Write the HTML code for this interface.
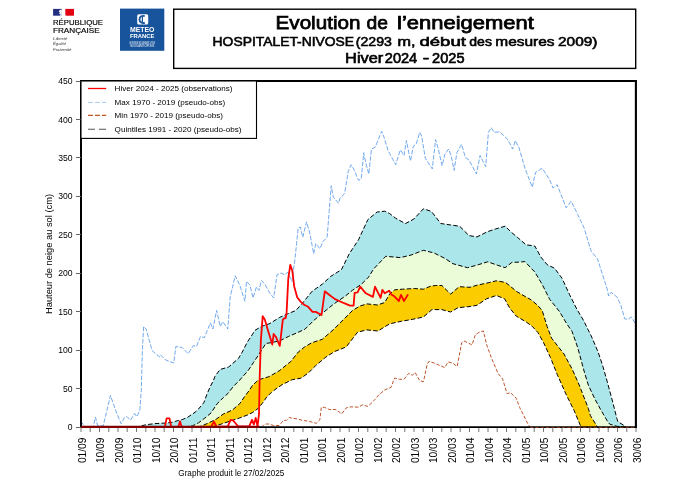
<!DOCTYPE html>
<html><head><meta charset="utf-8"><style>
html,body{margin:0;padding:0;background:#fff;width:687px;height:485px;overflow:hidden}
svg{display:block;will-change:transform}
</style></head><body>
<svg width="687" height="485" viewBox="0 0 687 485">
<rect x="53.1" y="8.9" width="8.7" height="6.8" fill="#232f80"/>
<rect x="65.3" y="8.9" width="8.7" height="6.8" fill="#e1000f"/>
<path d="M59.5 10.2 l1.6 -0.6 l0.7 0.4 l0 5.7 l-2.2 0 l1 -1.3 l-1.6 -0.8 l1.3 -0.9 l-1.5 -0.6 z" fill="#ffffff"/>
<path d="M65.3 13.6 l-0.6 2.1 l0.6 0 z" fill="#ffffff"/>
<text x="53" y="25.2" font-family="Liberation Sans, sans-serif" font-size="6.8" stroke="#000" stroke-width="0.15" textLength="50" lengthAdjust="spacingAndGlyphs" fill="#000">RÉPUBLIQUE</text>
<text x="53" y="33.4" font-family="Liberation Sans, sans-serif" font-size="6.8" stroke="#000" stroke-width="0.15" textLength="46.6" lengthAdjust="spacingAndGlyphs" fill="#000">FRANÇAISE</text>
<text x="53" y="39.800000000000004" font-family="Liberation Sans, sans-serif" font-style="italic" font-size="3.4" textLength="14.5" lengthAdjust="spacingAndGlyphs" fill="#333">Liberté</text>
<text x="53" y="45.2" font-family="Liberation Sans, sans-serif" font-style="italic" font-size="3.4" textLength="13" lengthAdjust="spacingAndGlyphs" fill="#333">Égalité</text>
<text x="53" y="50.6" font-family="Liberation Sans, sans-serif" font-style="italic" font-size="3.4" textLength="18.5" lengthAdjust="spacingAndGlyphs" fill="#333">Fraternité</text>
<rect x="120" y="8.6" width="44.3" height="42.2" fill="#18549c"/>
<rect x="137.2" y="14.3" width="11" height="10.3" rx="1.5" fill="#ffffff"/>
<path d="M144.8 16.3 a3.6 3.6 0 1 0 0 6.3" stroke="#18549c" stroke-width="1.8" fill="none"/>
<rect x="141.8" y="16.8" width="1.2" height="5.5" fill="#18549c"/>
<text x="142.2" y="32.3" font-family="Liberation Sans, sans-serif" font-weight="bold" font-size="7" text-anchor="middle" textLength="24.5" lengthAdjust="spacingAndGlyphs" fill="#fff">METEO</text>
<text x="142.2" y="38.2" font-family="Liberation Sans, sans-serif" font-weight="bold" font-size="5" text-anchor="middle" textLength="24.5" lengthAdjust="spacingAndGlyphs" fill="#fff">FRANCE</text>
<text x="142.2" y="43.6" font-family="Liberation Sans, sans-serif" font-size="2.6" text-anchor="middle" textLength="26" lengthAdjust="spacingAndGlyphs" fill="#fff">LE MONDE BOUGE AVEC VOUS</text>
<text x="142.2" y="47" font-family="Liberation Sans, sans-serif" font-size="2.6" text-anchor="middle" textLength="24" lengthAdjust="spacingAndGlyphs" fill="#fff">NOUS ANTICIPONS</text>
<rect x="173.7" y="9.2" width="462" height="59.2" fill="none" stroke="#000" stroke-width="1.4"/>
<text x="275.6" y="28.9" font-family="Liberation Sans, sans-serif" font-size="18.4" stroke="#000" stroke-width="0.75" textLength="84.8" lengthAdjust="spacingAndGlyphs">Evolution</text>
<text x="366.6" y="28.9" font-family="Liberation Sans, sans-serif" font-size="18.4" stroke="#000" stroke-width="0.75" textLength="21.4" lengthAdjust="spacingAndGlyphs">de</text>
<text x="397.1" y="28.9" font-family="Liberation Sans, sans-serif" font-size="18.4" stroke="#000" stroke-width="0.75" textLength="136.8" lengthAdjust="spacingAndGlyphs">l’enneigement</text>
<text x="212.6" y="45.7" font-family="Liberation Sans, sans-serif" font-size="13.6" stroke="#000" stroke-width="0.6" textLength="141.5" lengthAdjust="spacingAndGlyphs">HOSPITALET-NIVOSE</text>
<text x="355.8" y="45.7" font-family="Liberation Sans, sans-serif" font-size="13.6" stroke="#000" stroke-width="0.6" textLength="36.1" lengthAdjust="spacingAndGlyphs">(2293</text>
<text x="397.5" y="45.7" font-family="Liberation Sans, sans-serif" font-size="13.6" stroke="#000" stroke-width="0.6" textLength="18.0" lengthAdjust="spacingAndGlyphs">m,</text>
<text x="419.5" y="45.7" font-family="Liberation Sans, sans-serif" font-size="13.6" stroke="#000" stroke-width="0.6" textLength="46.4" lengthAdjust="spacingAndGlyphs">début</text>
<text x="469.3" y="45.7" font-family="Liberation Sans, sans-serif" font-size="13.6" stroke="#000" stroke-width="0.6" textLength="22.6" lengthAdjust="spacingAndGlyphs">des</text>
<text x="495.3" y="45.7" font-family="Liberation Sans, sans-serif" font-size="13.6" stroke="#000" stroke-width="0.6" textLength="59.3" lengthAdjust="spacingAndGlyphs">mesures</text>
<text x="558.0" y="45.7" font-family="Liberation Sans, sans-serif" font-size="13.6" stroke="#000" stroke-width="0.6" textLength="39.4" lengthAdjust="spacingAndGlyphs">2009)</text>
<text x="345.1" y="63.0" font-family="Liberation Sans, sans-serif" font-size="13.8" stroke="#000" stroke-width="0.6" textLength="38.1" lengthAdjust="spacingAndGlyphs">Hiver</text>
<text x="384.8" y="63.0" font-family="Liberation Sans, sans-serif" font-size="13.8" stroke="#000" stroke-width="0.6" textLength="32.4" lengthAdjust="spacingAndGlyphs">2024</text>
<text x="422.7" y="63.0" font-family="Liberation Sans, sans-serif" font-size="13.8" stroke="#000" stroke-width="0.6" textLength="6.5" lengthAdjust="spacingAndGlyphs">-</text>
<text x="432.1" y="63.0" font-family="Liberation Sans, sans-serif" font-size="13.8" stroke="#000" stroke-width="0.6" textLength="32.4" lengthAdjust="spacingAndGlyphs">2025</text>
<polygon points="81.0,427.0 135.0,427.0 139.8,426.3 145.6,424.8 154.9,423.6 166.6,423.0 172.5,422.2 178.3,420.5 180.0,420.4 182.9,419.3 187.6,417.3 195.0,412.3 198.6,408.9 203.8,402.7 206.9,394.4 210.0,387.2 213.6,380.0 215.0,376.3 220.0,369.5 228.6,367.0 238.5,358.4 242.2,352.2 247.2,342.3 252.1,334.9 255.0,330.3 261.2,326.6 269.9,323.5 279.8,317.3 289.7,313.0 295.8,310.5 302.0,303.7 312.2,291.2 322.5,284.0 330.7,276.4 341.4,269.7 349.3,253.7 358.5,239.8 367.8,219.7 377.1,212.0 384.8,211.2 389.5,213.5 395.6,218.2 405.4,223.6 413.9,219.0 423.4,208.8 431.4,211.4 440.8,223.5 450.2,224.9 459.6,226.2 469.0,235.6 477.0,236.9 487.7,231.6 495.8,228.9 505.2,226.2 511.0,232.0 517.4,237.3 526.1,244.8 534.8,246.0 540.9,257.1 547.1,264.6 554.6,268.3 562.0,278.2 569.4,294.3 576.8,309.1 583.3,320.0 591.2,335.9 598.0,351.7 602.6,365.4 607.1,381.2 612.8,402.3 616.9,418.6 617.9,421.7 623.0,424.8 626.0,427.0 636.0,427.0" fill="#aae6ea"/>
<polygon points="81.0,427.0 184.4,426.8 192.4,425.9 198.6,422.8 204.8,418.1 211.0,413.0 217.2,403.7 223.4,397.5 228.0,393.4 233.4,386.4 239.8,380.0 248.4,370.2 253.5,362.5 258.7,354.7 265.9,343.4 271.1,342.7 279.8,340.8 288.4,336.5 297.1,332.8 305.0,329.2 313.7,320.5 322.3,313.3 333.9,303.9 345.4,296.0 352.6,290.2 361.3,284.4 368.5,277.2 373.6,269.0 385.7,256.3 400.4,257.6 411.2,255.0 423.4,250.3 434.1,253.0 444.9,258.4 452.9,263.7 467.6,267.7 477.0,265.1 487.7,261.8 497.1,265.1 505.2,267.7 511.9,262.4 519.9,262.1 524.9,261.6 534.8,272.0 542.2,284.4 549.6,299.2 559.5,311.6 566.9,324.0 572.0,331.3 577.6,347.2 584.4,372.2 588.3,385.0 594.5,398.3 600.6,409.5 607.7,421.7 609.8,424.2 616.9,426.3 625.0,427.0 636.0,427.0" fill="#ebfcd9"/>
<polygon points="81.0,427.0 197.0,427.0 201.7,425.9 208.9,422.8 216.1,419.2 223.4,414.0 228.0,412.0 232.4,410.0 239.8,403.6 243.6,398.0 249.1,390.6 252.8,385.0 258.7,379.7 268.9,376.7 279.1,370.9 290.8,361.5 298.3,352.0 304.5,347.0 311.9,342.7 322.3,339.3 333.9,329.2 344.0,319.1 352.6,310.4 359.8,306.1 367.0,303.9 377.5,305.0 384.7,302.5 390.0,293.5 394.9,289.8 402.4,289.2 414.7,288.5 423.4,289.2 430.8,286.1 435.7,285.5 441.9,285.5 450.6,294.1 459.2,286.7 470.0,287.3 477.0,285.2 490.0,282.4 496.2,280.8 505.5,282.4 510.6,286.5 516.8,291.6 524.0,295.8 531.2,299.9 537.4,305.1 542.2,310.5 547.1,326.4 551.5,338.1 564.0,354.0 572.0,368.8 579.2,385.0 588.3,408.4 590.4,415.6 597.5,427.0 636.0,427.0" fill="#fbcd00"/>
<polygon points="81.0,427.0 212.0,427.0 220.0,424.5 228.0,421.8 232.4,420.3 239.8,417.9 247.3,415.1 252.8,412.4 258.4,408.2 262.1,403.6 266.7,397.1 271.4,392.4 275.0,389.6 282.0,384.7 292.2,379.7 300.9,378.2 308.2,373.1 315.5,365.8 325.8,357.1 334.9,351.4 346.2,346.9 357.6,332.2 366.6,329.9 378.0,331.0 387.0,325.4 390.0,323.8 401.1,321.3 412.2,319.4 423.4,317.0 432.0,309.6 441.9,309.6 450.6,312.0 458.0,307.7 470.0,306.5 477.0,305.3 486.5,298.8 496.4,295.5 504.6,298.8 509.6,307.9 516.2,316.1 526.1,321.9 532.3,326.4 537.9,332.5 543.6,342.7 550.4,357.4 557.2,374.4 566.3,394.8 574.2,410.7 581.0,427.0 636.0,427.0" fill="#ffffff"/>
<polyline points="135.0,427.0 139.8,426.3 145.6,424.8 154.9,423.6 166.6,423.0 172.5,422.2 178.3,420.5 180.0,420.4 182.9,419.3 187.6,417.3 195.0,412.3 198.6,408.9 203.8,402.7 206.9,394.4 210.0,387.2 213.6,380.0 215.0,376.3 220.0,369.5 228.6,367.0 238.5,358.4 242.2,352.2 247.2,342.3 252.1,334.9 255.0,330.3 261.2,326.6 269.9,323.5 279.8,317.3 289.7,313.0 295.8,310.5 302.0,303.7 312.2,291.2 322.5,284.0 330.7,276.4 341.4,269.7 349.3,253.7 358.5,239.8 367.8,219.7 377.1,212.0 384.8,211.2 389.5,213.5 395.6,218.2 405.4,223.6 413.9,219.0 423.4,208.8 431.4,211.4 440.8,223.5 450.2,224.9 459.6,226.2 469.0,235.6 477.0,236.9 487.7,231.6 495.8,228.9 505.2,226.2 511.0,232.0 517.4,237.3 526.1,244.8 534.8,246.0 540.9,257.1 547.1,264.6 554.6,268.3 562.0,278.2 569.4,294.3 576.8,309.1 583.3,320.0 591.2,335.9 598.0,351.7 602.6,365.4 607.1,381.2 612.8,402.3 616.9,418.6 617.9,421.7 623.0,424.8 626.0,427.0" fill="none" stroke="#000" stroke-width="1.0" stroke-dasharray="4.5 2.2"/>
<polyline points="184.4,426.8 192.4,425.9 198.6,422.8 204.8,418.1 211.0,413.0 217.2,403.7 223.4,397.5 228.0,393.4 233.4,386.4 239.8,380.0 248.4,370.2 253.5,362.5 258.7,354.7 265.9,343.4 271.1,342.7 279.8,340.8 288.4,336.5 297.1,332.8 305.0,329.2 313.7,320.5 322.3,313.3 333.9,303.9 345.4,296.0 352.6,290.2 361.3,284.4 368.5,277.2 373.6,269.0 385.7,256.3 400.4,257.6 411.2,255.0 423.4,250.3 434.1,253.0 444.9,258.4 452.9,263.7 467.6,267.7 477.0,265.1 487.7,261.8 497.1,265.1 505.2,267.7 511.9,262.4 519.9,262.1 524.9,261.6 534.8,272.0 542.2,284.4 549.6,299.2 559.5,311.6 566.9,324.0 572.0,331.3 577.6,347.2 584.4,372.2 588.3,385.0 594.5,398.3 600.6,409.5 607.7,421.7 609.8,424.2 616.9,426.3 625.0,427.0" fill="none" stroke="#000" stroke-width="1.0" stroke-dasharray="4.5 2.2"/>
<polyline points="197.0,427.0 201.7,425.9 208.9,422.8 216.1,419.2 223.4,414.0 228.0,412.0 232.4,410.0 239.8,403.6 243.6,398.0 249.1,390.6 252.8,385.0 258.7,379.7 268.9,376.7 279.1,370.9 290.8,361.5 298.3,352.0 304.5,347.0 311.9,342.7 322.3,339.3 333.9,329.2 344.0,319.1 352.6,310.4 359.8,306.1 367.0,303.9 377.5,305.0 384.7,302.5 390.0,293.5 394.9,289.8 402.4,289.2 414.7,288.5 423.4,289.2 430.8,286.1 435.7,285.5 441.9,285.5 450.6,294.1 459.2,286.7 470.0,287.3 477.0,285.2 490.0,282.4 496.2,280.8 505.5,282.4 510.6,286.5 516.8,291.6 524.0,295.8 531.2,299.9 537.4,305.1 542.2,310.5 547.1,326.4 551.5,338.1 564.0,354.0 572.0,368.8 579.2,385.0 588.3,408.4 590.4,415.6 597.5,427.0" fill="none" stroke="#000" stroke-width="1.0" stroke-dasharray="4.5 2.2"/>
<polyline points="212.0,427.0 220.0,424.5 228.0,421.8 232.4,420.3 239.8,417.9 247.3,415.1 252.8,412.4 258.4,408.2 262.1,403.6 266.7,397.1 271.4,392.4 275.0,389.6 282.0,384.7 292.2,379.7 300.9,378.2 308.2,373.1 315.5,365.8 325.8,357.1 334.9,351.4 346.2,346.9 357.6,332.2 366.6,329.9 378.0,331.0 387.0,325.4 390.0,323.8 401.1,321.3 412.2,319.4 423.4,317.0 432.0,309.6 441.9,309.6 450.6,312.0 458.0,307.7 470.0,306.5 477.0,305.3 486.5,298.8 496.4,295.5 504.6,298.8 509.6,307.9 516.2,316.1 526.1,321.9 532.3,326.4 537.9,332.5 543.6,342.7 550.4,357.4 557.2,374.4 566.3,394.8 574.2,410.7 581.0,427.0" fill="none" stroke="#000" stroke-width="1.0" stroke-dasharray="4.5 2.2"/>
<polyline points="81.5,426.0 82.1,423.3 83.6,424.3 85.0,426.5 93.4,426.4 95.5,417.1 97.5,425.4 103.2,425.9 106.8,410.9 110.4,395.5 113.0,402.7 116.6,413.0 121.2,423.8 124.3,417.6 126.9,416.6 130.5,420.2 134.6,413.5 136.7,416.6 139.8,410.9 141.3,390.3 142.4,350.0 143.6,326.5 146.1,329.0 152.1,350.6 159.4,356.8 160.4,354.7 165.5,359.9 173.8,363.0 175.8,346.5 182.0,347.5 188.2,353.7 193.4,345.5 196.5,346.5 200.5,336.4 204.3,337.7 210.4,322.8 212.9,329.0 216.6,310.4 220.3,326.5 222.8,321.6 227.8,329.0 230.2,296.8 235.2,275.8 239.9,285.5 244.9,301.2 246.5,281.4 249.8,284.7 253.1,297.9 256.4,287.1 258.9,290.4 261.4,280.5 264.7,283.8 269.6,292.9 273.7,297.9 277.0,274.8 281.2,273.1 284.5,274.8 287.8,272.3 291.9,281.4 295.2,256.9 298.2,228.0 300.3,227.0 302.8,237.3 306.5,221.9 309.6,232.2 313.7,253.8 315.8,243.5 319.9,248.7 323.0,241.4 327.1,237.3 329.2,211.5 331.2,185.8 333.3,197.1 338.5,203.3 340.0,198.1 344.6,193.5 348.3,171.2 351.1,164.7 353.9,169.4 358.6,180.5 361.3,178.6 363.7,152.7 366.0,163.8 368.8,174.0 371.5,149.0 375.3,147.1 377.1,142.5 381.7,131.3 383.6,136.0 388.2,150.8 395.7,164.7 400.3,149.9 404.0,155.5 406.4,140.6 410.5,161.0 413.3,146.2 416.1,144.3 419.8,132.3 421.6,136.0 425.3,158.2 432.3,168.9 435.6,139.7 438.3,149.0 442.1,165.7 444.8,154.5 448.6,149.0 451.3,156.4 454.1,170.3 456.9,152.7 461.5,144.3 465.3,157.3 469.0,160.1 476.4,174.0 480.1,155.5 485.7,166.6 488.4,132.3 491.2,127.6 494.0,132.3 499.6,131.9 504.2,136.0 507.9,139.7 512.6,149.0 515.3,140.6 519.1,148.0 524.9,168.2 532.3,187.1 535.6,172.3 542.2,168.2 549.7,179.9 553.0,188.0 557.1,184.7 566.2,207.8 571.1,201.2 577.8,214.6 584.3,228.4 591.0,250.9 597.6,259.1 607.4,289.8 608.6,296.0 611.1,292.3 617.2,297.2 621.0,305.8 624.7,318.8 627.8,319.4 631.5,317.0 635.8,324.4" fill="none" stroke="#4f94e8" stroke-width="0.8" stroke-dasharray="4.5 1.6"/>
<polyline points="261.6,427.0 264.6,424.0 268.9,424.0 273.3,425.5 279.1,425.5 283.5,420.4 286.4,420.4 289.3,417.5 292.2,418.2 298.0,419.0 302.4,420.4 308.2,421.1 311.1,421.9 316.2,423.3 319.9,419.7 321.3,407.3 324.2,407.3 329.3,409.5 335.9,409.5 341.7,413.9 346.3,407.8 351.1,406.8 358.6,407.2 362.3,404.9 367.8,406.4 372.5,402.2 379.0,394.7 384.5,390.1 391.0,387.3 394.7,378.0 399.4,379.3 404.0,379.3 408.6,373.4 412.4,375.3 415.1,372.5 419.8,380.8 423.5,381.7 427.2,364.1 429.0,361.3 434.6,363.2 436.8,364.2 444.7,367.6 448.1,362.0 452.7,363.1 457.2,366.5 461.7,342.7 464.0,340.9 472.0,344.9 475.4,334.7 478.8,332.5 483.3,330.9 486.7,344.9 491.2,357.4 498.0,373.3 502.6,379.0 507.1,393.7 510.5,392.6 516.2,398.2 519.6,407.3 527.5,423.2 529.8,426.6" fill="none" stroke="#b84c22" stroke-width="0.95" stroke-dasharray="3.5 1.8"/>
<line x1="80" y1="81.0" x2="637" y2="81.0" stroke="#000" stroke-width="1.8"/>
<line x1="635.9" y1="80" x2="635.9" y2="428" stroke="#000" stroke-width="2.1"/>
<line x1="81" y1="80" x2="81" y2="428" stroke="#000" stroke-width="2"/>
<line x1="81" y1="427.1" x2="636" y2="427.1" stroke="#000" stroke-width="1.7"/>
<line x1="530" y1="427.4" x2="636" y2="427.4" stroke="#a0401c" stroke-width="0.8" stroke-dasharray="3.5 1.8"/>
<polyline points="81.0,427.0 164.8,427.0 166.6,418.4 169.5,418.4 171.2,427.0 178.2,427.0 180.0,421.3 181.7,427.0 211.0,427.0 213.9,421.6 216.7,427.0 227.8,426.3 230.6,419.8 233.4,420.7 238.0,426.3 249.2,426.3 252.0,419.8 253.8,424.4 255.7,417.9 257.5,426.3 259.0,414.2 259.7,377.1 260.9,340.0 262.7,316.1 264.9,319.8 267.4,328.5 272.3,344.6 273.6,334.0 276.0,337.1 279.8,345.8 282.8,319.8 284.1,318.3 285.7,318.0 286.6,312.4 288.3,278.5 290.3,264.8 292.3,270.7 294.2,286.4 297.2,297.2 300.8,301.9 304.5,305.0 308.2,306.8 312.5,311.8 315.8,311.9 321.5,315.0 324.8,291.3 328.5,294.2 335.0,299.1 344.1,303.2 350.0,305.6 353.6,305.6 354.6,292.8 357.6,292.3 360.2,286.7 365.8,293.3 372.9,296.9 375.0,286.7 380.6,297.9 382.4,289.8 384.7,293.3 389.2,290.8 391.3,294.4 393.8,295.9 398.9,301.0 401.0,294.9 404.0,301.0 408.1,294.4" fill="none" stroke="#ff0000" stroke-width="1.8" stroke-linejoin="round"/>
<line x1="81" y1="426.9" x2="259.6" y2="426.9" stroke="#820000" stroke-width="2.1"/>
<line x1="76" y1="427.5" x2="81" y2="427.5" stroke="#666" stroke-width="1"/>
<text x="72.6" y="430.1" font-family="Liberation Sans, sans-serif" font-size="8.6" text-anchor="end" fill="#000">0</text>
<line x1="76" y1="388.5" x2="81" y2="388.5" stroke="#666" stroke-width="1"/>
<text x="72.6" y="391.7" font-family="Liberation Sans, sans-serif" font-size="8.6" text-anchor="end" fill="#000">50</text>
<line x1="76" y1="350.5" x2="81" y2="350.5" stroke="#666" stroke-width="1"/>
<text x="72.6" y="353.2" font-family="Liberation Sans, sans-serif" font-size="8.6" text-anchor="end" fill="#000">100</text>
<line x1="76" y1="311.5" x2="81" y2="311.5" stroke="#666" stroke-width="1"/>
<text x="72.6" y="314.8" font-family="Liberation Sans, sans-serif" font-size="8.6" text-anchor="end" fill="#000">150</text>
<line x1="76" y1="273.5" x2="81" y2="273.5" stroke="#666" stroke-width="1"/>
<text x="72.6" y="276.3" font-family="Liberation Sans, sans-serif" font-size="8.6" text-anchor="end" fill="#000">200</text>
<line x1="76" y1="234.5" x2="81" y2="234.5" stroke="#666" stroke-width="1"/>
<text x="72.6" y="237.9" font-family="Liberation Sans, sans-serif" font-size="8.6" text-anchor="end" fill="#000">250</text>
<line x1="76" y1="196.5" x2="81" y2="196.5" stroke="#666" stroke-width="1"/>
<text x="72.6" y="199.4" font-family="Liberation Sans, sans-serif" font-size="8.6" text-anchor="end" fill="#000">300</text>
<line x1="76" y1="157.5" x2="81" y2="157.5" stroke="#666" stroke-width="1"/>
<text x="72.6" y="161.0" font-family="Liberation Sans, sans-serif" font-size="8.6" text-anchor="end" fill="#000">350</text>
<line x1="76" y1="119.5" x2="81" y2="119.5" stroke="#666" stroke-width="1"/>
<text x="72.6" y="122.5" font-family="Liberation Sans, sans-serif" font-size="8.6" text-anchor="end" fill="#000">400</text>
<line x1="76" y1="81.5" x2="81" y2="81.5" stroke="#666" stroke-width="1"/>
<text x="72.6" y="84.1" font-family="Liberation Sans, sans-serif" font-size="8.6" text-anchor="end" fill="#000">450</text>
<line x1="81.0" y1="428" x2="81.0" y2="432" stroke="#666" stroke-width="0.9"/>
<line x1="90.2" y1="428" x2="90.2" y2="432" stroke="#666" stroke-width="0.9"/>
<line x1="99.5" y1="428" x2="99.5" y2="432" stroke="#666" stroke-width="0.9"/>
<line x1="108.8" y1="428" x2="108.8" y2="432" stroke="#666" stroke-width="0.9"/>
<line x1="118.0" y1="428" x2="118.0" y2="432" stroke="#666" stroke-width="0.9"/>
<line x1="127.2" y1="428" x2="127.2" y2="432" stroke="#666" stroke-width="0.9"/>
<line x1="136.5" y1="428" x2="136.5" y2="432" stroke="#666" stroke-width="0.9"/>
<line x1="145.8" y1="428" x2="145.8" y2="432" stroke="#666" stroke-width="0.9"/>
<line x1="155.0" y1="428" x2="155.0" y2="432" stroke="#666" stroke-width="0.9"/>
<line x1="164.2" y1="428" x2="164.2" y2="432" stroke="#666" stroke-width="0.9"/>
<line x1="173.5" y1="428" x2="173.5" y2="432" stroke="#666" stroke-width="0.9"/>
<line x1="182.8" y1="428" x2="182.8" y2="432" stroke="#666" stroke-width="0.9"/>
<line x1="192.0" y1="428" x2="192.0" y2="432" stroke="#666" stroke-width="0.9"/>
<line x1="201.2" y1="428" x2="201.2" y2="432" stroke="#666" stroke-width="0.9"/>
<line x1="210.5" y1="428" x2="210.5" y2="432" stroke="#666" stroke-width="0.9"/>
<line x1="219.8" y1="428" x2="219.8" y2="432" stroke="#666" stroke-width="0.9"/>
<line x1="229.0" y1="428" x2="229.0" y2="432" stroke="#666" stroke-width="0.9"/>
<line x1="238.2" y1="428" x2="238.2" y2="432" stroke="#666" stroke-width="0.9"/>
<line x1="247.5" y1="428" x2="247.5" y2="432" stroke="#666" stroke-width="0.9"/>
<line x1="256.8" y1="428" x2="256.8" y2="432" stroke="#666" stroke-width="0.9"/>
<line x1="266.0" y1="428" x2="266.0" y2="432" stroke="#666" stroke-width="0.9"/>
<line x1="275.2" y1="428" x2="275.2" y2="432" stroke="#666" stroke-width="0.9"/>
<line x1="284.5" y1="428" x2="284.5" y2="432" stroke="#666" stroke-width="0.9"/>
<line x1="293.8" y1="428" x2="293.8" y2="432" stroke="#666" stroke-width="0.9"/>
<line x1="303.0" y1="428" x2="303.0" y2="432" stroke="#666" stroke-width="0.9"/>
<line x1="312.2" y1="428" x2="312.2" y2="432" stroke="#666" stroke-width="0.9"/>
<line x1="321.5" y1="428" x2="321.5" y2="432" stroke="#666" stroke-width="0.9"/>
<line x1="330.8" y1="428" x2="330.8" y2="432" stroke="#666" stroke-width="0.9"/>
<line x1="340.0" y1="428" x2="340.0" y2="432" stroke="#666" stroke-width="0.9"/>
<line x1="349.2" y1="428" x2="349.2" y2="432" stroke="#666" stroke-width="0.9"/>
<line x1="358.5" y1="428" x2="358.5" y2="432" stroke="#666" stroke-width="0.9"/>
<line x1="367.8" y1="428" x2="367.8" y2="432" stroke="#666" stroke-width="0.9"/>
<line x1="377.0" y1="428" x2="377.0" y2="432" stroke="#666" stroke-width="0.9"/>
<line x1="386.2" y1="428" x2="386.2" y2="432" stroke="#666" stroke-width="0.9"/>
<line x1="395.5" y1="428" x2="395.5" y2="432" stroke="#666" stroke-width="0.9"/>
<line x1="404.8" y1="428" x2="404.8" y2="432" stroke="#666" stroke-width="0.9"/>
<line x1="414.0" y1="428" x2="414.0" y2="432" stroke="#666" stroke-width="0.9"/>
<line x1="423.2" y1="428" x2="423.2" y2="432" stroke="#666" stroke-width="0.9"/>
<line x1="432.5" y1="428" x2="432.5" y2="432" stroke="#666" stroke-width="0.9"/>
<line x1="441.8" y1="428" x2="441.8" y2="432" stroke="#666" stroke-width="0.9"/>
<line x1="451.0" y1="428" x2="451.0" y2="432" stroke="#666" stroke-width="0.9"/>
<line x1="460.2" y1="428" x2="460.2" y2="432" stroke="#666" stroke-width="0.9"/>
<line x1="469.5" y1="428" x2="469.5" y2="432" stroke="#666" stroke-width="0.9"/>
<line x1="478.8" y1="428" x2="478.8" y2="432" stroke="#666" stroke-width="0.9"/>
<line x1="488.0" y1="428" x2="488.0" y2="432" stroke="#666" stroke-width="0.9"/>
<line x1="497.2" y1="428" x2="497.2" y2="432" stroke="#666" stroke-width="0.9"/>
<line x1="506.5" y1="428" x2="506.5" y2="432" stroke="#666" stroke-width="0.9"/>
<line x1="515.8" y1="428" x2="515.8" y2="432" stroke="#666" stroke-width="0.9"/>
<line x1="525.0" y1="428" x2="525.0" y2="432" stroke="#666" stroke-width="0.9"/>
<line x1="534.2" y1="428" x2="534.2" y2="432" stroke="#666" stroke-width="0.9"/>
<line x1="543.5" y1="428" x2="543.5" y2="432" stroke="#666" stroke-width="0.9"/>
<line x1="552.8" y1="428" x2="552.8" y2="432" stroke="#666" stroke-width="0.9"/>
<line x1="562.0" y1="428" x2="562.0" y2="432" stroke="#666" stroke-width="0.9"/>
<line x1="571.2" y1="428" x2="571.2" y2="432" stroke="#666" stroke-width="0.9"/>
<line x1="580.5" y1="428" x2="580.5" y2="432" stroke="#666" stroke-width="0.9"/>
<line x1="589.8" y1="428" x2="589.8" y2="432" stroke="#666" stroke-width="0.9"/>
<line x1="599.0" y1="428" x2="599.0" y2="432" stroke="#666" stroke-width="0.9"/>
<line x1="608.2" y1="428" x2="608.2" y2="432" stroke="#666" stroke-width="0.9"/>
<line x1="617.5" y1="428" x2="617.5" y2="432" stroke="#666" stroke-width="0.9"/>
<line x1="626.8" y1="428" x2="626.8" y2="432" stroke="#666" stroke-width="0.9"/>
<line x1="636.0" y1="428" x2="636.0" y2="432" stroke="#666" stroke-width="0.9"/>
<text transform="translate(85.6,463.1) rotate(-90)" font-family="Liberation Sans, sans-serif" font-size="10.6" textLength="25.6" lengthAdjust="spacingAndGlyphs" fill="#000">01/09</text>
<text transform="translate(104.1,463.1) rotate(-90)" font-family="Liberation Sans, sans-serif" font-size="10.6" textLength="25.6" lengthAdjust="spacingAndGlyphs" fill="#000">10/09</text>
<text transform="translate(122.6,463.1) rotate(-90)" font-family="Liberation Sans, sans-serif" font-size="10.6" textLength="25.6" lengthAdjust="spacingAndGlyphs" fill="#000">20/09</text>
<text transform="translate(141.1,463.1) rotate(-90)" font-family="Liberation Sans, sans-serif" font-size="10.6" textLength="25.6" lengthAdjust="spacingAndGlyphs" fill="#000">01/10</text>
<text transform="translate(159.6,463.1) rotate(-90)" font-family="Liberation Sans, sans-serif" font-size="10.6" textLength="25.6" lengthAdjust="spacingAndGlyphs" fill="#000">10/10</text>
<text transform="translate(178.1,463.1) rotate(-90)" font-family="Liberation Sans, sans-serif" font-size="10.6" textLength="25.6" lengthAdjust="spacingAndGlyphs" fill="#000">20/10</text>
<text transform="translate(196.6,463.1) rotate(-90)" font-family="Liberation Sans, sans-serif" font-size="10.6" textLength="25.6" lengthAdjust="spacingAndGlyphs" fill="#000">01/11</text>
<text transform="translate(215.1,463.1) rotate(-90)" font-family="Liberation Sans, sans-serif" font-size="10.6" textLength="25.6" lengthAdjust="spacingAndGlyphs" fill="#000">10/11</text>
<text transform="translate(233.6,463.1) rotate(-90)" font-family="Liberation Sans, sans-serif" font-size="10.6" textLength="25.6" lengthAdjust="spacingAndGlyphs" fill="#000">20/11</text>
<text transform="translate(252.1,463.1) rotate(-90)" font-family="Liberation Sans, sans-serif" font-size="10.6" textLength="25.6" lengthAdjust="spacingAndGlyphs" fill="#000">01/12</text>
<text transform="translate(270.6,463.1) rotate(-90)" font-family="Liberation Sans, sans-serif" font-size="10.6" textLength="25.6" lengthAdjust="spacingAndGlyphs" fill="#000">10/12</text>
<text transform="translate(289.1,463.1) rotate(-90)" font-family="Liberation Sans, sans-serif" font-size="10.6" textLength="25.6" lengthAdjust="spacingAndGlyphs" fill="#000">20/12</text>
<text transform="translate(307.6,463.1) rotate(-90)" font-family="Liberation Sans, sans-serif" font-size="10.6" textLength="25.6" lengthAdjust="spacingAndGlyphs" fill="#000">01/01</text>
<text transform="translate(326.1,463.1) rotate(-90)" font-family="Liberation Sans, sans-serif" font-size="10.6" textLength="25.6" lengthAdjust="spacingAndGlyphs" fill="#000">10/01</text>
<text transform="translate(344.6,463.1) rotate(-90)" font-family="Liberation Sans, sans-serif" font-size="10.6" textLength="25.6" lengthAdjust="spacingAndGlyphs" fill="#000">20/01</text>
<text transform="translate(363.1,463.1) rotate(-90)" font-family="Liberation Sans, sans-serif" font-size="10.6" textLength="25.6" lengthAdjust="spacingAndGlyphs" fill="#000">01/02</text>
<text transform="translate(381.6,463.1) rotate(-90)" font-family="Liberation Sans, sans-serif" font-size="10.6" textLength="25.6" lengthAdjust="spacingAndGlyphs" fill="#000">10/02</text>
<text transform="translate(400.1,463.1) rotate(-90)" font-family="Liberation Sans, sans-serif" font-size="10.6" textLength="25.6" lengthAdjust="spacingAndGlyphs" fill="#000">20/02</text>
<text transform="translate(418.6,463.1) rotate(-90)" font-family="Liberation Sans, sans-serif" font-size="10.6" textLength="25.6" lengthAdjust="spacingAndGlyphs" fill="#000">01/03</text>
<text transform="translate(437.1,463.1) rotate(-90)" font-family="Liberation Sans, sans-serif" font-size="10.6" textLength="25.6" lengthAdjust="spacingAndGlyphs" fill="#000">10/03</text>
<text transform="translate(455.6,463.1) rotate(-90)" font-family="Liberation Sans, sans-serif" font-size="10.6" textLength="25.6" lengthAdjust="spacingAndGlyphs" fill="#000">20/03</text>
<text transform="translate(474.1,463.1) rotate(-90)" font-family="Liberation Sans, sans-serif" font-size="10.6" textLength="25.6" lengthAdjust="spacingAndGlyphs" fill="#000">01/04</text>
<text transform="translate(492.6,463.1) rotate(-90)" font-family="Liberation Sans, sans-serif" font-size="10.6" textLength="25.6" lengthAdjust="spacingAndGlyphs" fill="#000">10/04</text>
<text transform="translate(511.1,463.1) rotate(-90)" font-family="Liberation Sans, sans-serif" font-size="10.6" textLength="25.6" lengthAdjust="spacingAndGlyphs" fill="#000">20/04</text>
<text transform="translate(529.6,463.1) rotate(-90)" font-family="Liberation Sans, sans-serif" font-size="10.6" textLength="25.6" lengthAdjust="spacingAndGlyphs" fill="#000">01/05</text>
<text transform="translate(548.1,463.1) rotate(-90)" font-family="Liberation Sans, sans-serif" font-size="10.6" textLength="25.6" lengthAdjust="spacingAndGlyphs" fill="#000">10/05</text>
<text transform="translate(566.6,463.1) rotate(-90)" font-family="Liberation Sans, sans-serif" font-size="10.6" textLength="25.6" lengthAdjust="spacingAndGlyphs" fill="#000">20/05</text>
<text transform="translate(585.1,463.1) rotate(-90)" font-family="Liberation Sans, sans-serif" font-size="10.6" textLength="25.6" lengthAdjust="spacingAndGlyphs" fill="#000">01/06</text>
<text transform="translate(603.6,463.1) rotate(-90)" font-family="Liberation Sans, sans-serif" font-size="10.6" textLength="25.6" lengthAdjust="spacingAndGlyphs" fill="#000">10/06</text>
<text transform="translate(622.1,463.1) rotate(-90)" font-family="Liberation Sans, sans-serif" font-size="10.6" textLength="25.6" lengthAdjust="spacingAndGlyphs" fill="#000">20/06</text>
<text transform="translate(640.6,463.1) rotate(-90)" font-family="Liberation Sans, sans-serif" font-size="10.6" textLength="25.6" lengthAdjust="spacingAndGlyphs" fill="#000">30/06</text>
<text transform="translate(52.2,314) rotate(-90)" font-family="Liberation Sans, sans-serif" font-size="9.4" textLength="120" lengthAdjust="spacingAndGlyphs" fill="#000">Hauteur de neige au sol (cm)</text>
<text x="178.3" y="476" font-family="Liberation Sans, sans-serif" font-size="8.6" textLength="106" lengthAdjust="spacingAndGlyphs" fill="#000">Graphe produit le 27/02/2025</text>
<rect x="81" y="81" width="175.5" height="57.4" fill="#fff" stroke="#000" stroke-width="1.1"/>
<line x1="88" y1="88.5" x2="106.2" y2="88.5" stroke="#ff0000" stroke-width="1.3"/>
<line x1="88" y1="102.4" x2="106.2" y2="102.4" stroke="#a6cbf2" stroke-width="1" stroke-dasharray="4.9 2.1"/>
<line x1="88" y1="115.4" x2="106.2" y2="115.4" stroke="#c25525" stroke-width="1.1" stroke-dasharray="4.9 2.1"/>
<line x1="88" y1="129.3" x2="106.2" y2="129.3" stroke="#555" stroke-width="1.1" stroke-dasharray="7 4"/>
<text x="114.6" y="91.3" font-family="Liberation Sans, sans-serif" font-size="8.1" fill="#000">Hiver 2024 - 2025 (observations)</text>
<text x="114.6" y="105.3" font-family="Liberation Sans, sans-serif" font-size="8.1" fill="#000">Max 1970 - 2019 (pseudo-obs)</text>
<text x="114.6" y="118.3" font-family="Liberation Sans, sans-serif" font-size="8.1" fill="#000">Min 1970 - 2019 (pseudo-obs)</text>
<text x="114.6" y="132.2" font-family="Liberation Sans, sans-serif" font-size="8.1" fill="#000">Quintiles 1991 - 2020 (pseudo-obs)</text>
</svg>
</body></html>
